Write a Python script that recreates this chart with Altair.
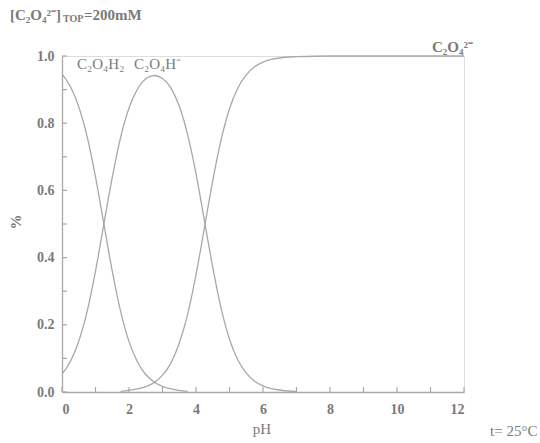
import altair as alt
import pandas as pd

# --- data ---
ph_h2a = [0, 0.25, 0.5, 0.75, 1.0, 1.25, 1.5, 1.75, 2.0, 2.25, 2.5, 2.75, 3.0, 3.25, 3.5, 3.75]
h2a = [0.947, 0.909, 0.849, 0.760, 0.640, 0.500, 0.360, 0.240, 0.150, 0.090, 0.052, 0.030, 0.017, 0.009, 0.005, 0.002]

ph_ha = [0, 0.25, 0.5, 0.75, 1.0, 1.25, 1.5, 1.75, 2.0, 2.25, 2.5, 2.75, 3.0, 3.25, 3.5, 3.75,
         4.0, 4.25, 4.5, 4.75, 5.0, 5.25, 5.5, 5.75, 6.0, 6.25, 6.5, 6.75, 7.0]
ha = [0.053, 0.091, 0.151, 0.240, 0.360, 0.500, 0.639, 0.758, 0.845, 0.901, 0.932, 0.942, 0.933, 0.905, 0.851, 0.766,
      0.650, 0.511, 0.371, 0.249, 0.157, 0.095, 0.056, 0.032, 0.018, 0.010, 0.006, 0.003, 0.002]

ph_a = [1.75, 2.0, 2.25, 2.5, 2.75, 3.0, 3.25, 3.5, 3.75, 4.0, 4.25, 4.5, 4.75, 5.0, 5.25, 5.5, 5.75,
        6.0, 6.25, 6.5, 6.75, 7.0, 8.0, 9.0, 10.0, 11.0, 12.0]
a = [0.002, 0.005, 0.009, 0.016, 0.028, 0.050, 0.086, 0.145, 0.231, 0.349, 0.488, 0.629, 0.751, 0.843, 0.905, 0.944, 0.968,
     0.982, 0.990, 0.994, 0.997, 0.998, 1.0, 1.0, 1.0, 1.0, 1.0]

x_ticks = list(range(0, 13))
x_labels = [0, 2, 4, 6, 8, 10, 12]
y_ticks = [round(i * 0.1, 1) for i in range(0, 11)]
y_labels = [0.0, 0.2, 0.4, 0.6, 0.8, 1.0]

rows = []
for p, v in zip(ph_h2a, h2a):
    rows.append({"pH": p, "frac": v, "sp": "C2O4H2"})
for p, v in zip(ph_ha, ha):
    rows.append({"pH": p, "frac": v, "sp": "C2O4H-"})
for p, v in zip(ph_a, a):
    rows.append({"pH": p, "frac": v, "sp": "C2O4 2-"})
df = pd.DataFrame(rows)

W, H = 402, 336
GRAY_LINE = "#a8a8a8"
GRAY_TXT = "#7a7a7a"
FONT = "Liberation Serif"

xs = alt.Scale(domain=[0, 12], nice=False)
ys = alt.Scale(domain=[0, 1], nice=False)

lines = alt.Chart(df).mark_line(color=GRAY_LINE, strokeWidth=1.3, interpolate="monotone").encode(
    x=alt.X("pH:Q", scale=xs,
            axis=alt.Axis(values=x_labels, format="d", title=None, ticks=False, grid=False,
                          domainColor=GRAY_LINE, domainWidth=1.3, labelFont=FONT, labelFontSize=14,
                          labelFontWeight="bold", labelColor=GRAY_TXT, labelPadding=10)),
    y=alt.Y("frac:Q", scale=ys,
            axis=alt.Axis(values=y_labels, format=".1f", title=None, ticks=False, grid=False,
                          domainColor=GRAY_LINE, domainWidth=1.3, labelFont=FONT, labelFontSize=14,
                          labelFontWeight="bold", labelColor=GRAY_TXT, labelPadding=8)),
    detail="sp:N",
)

xt = alt.Chart(pd.DataFrame({"t": x_ticks})).mark_rule(color=GRAY_LINE, strokeWidth=1.2).encode(
    x=alt.X("t:Q", scale=xs), y=alt.value(H), y2=alt.value(H - 5))
yt = alt.Chart(pd.DataFrame({"t": y_ticks})).mark_rule(color=GRAY_LINE, strokeWidth=1.2).encode(
    y=alt.Y("t:Q", scale=ys), x=alt.value(0), x2=alt.value(5))


def txt(s, x, y, size=14, weight="normal", align="left", angle=0, color=GRAY_TXT):
    kw = dict(text=s, font=FONT, fontSize=size, fontWeight=weight, color=color, align=align, baseline="middle")
    if angle:
        kw["angle"] = angle
    return alt.Chart(pd.DataFrame({"d": [0]})).mark_text(**kw).encode(x=alt.value(x), y=alt.value(y))


ox, oy = 62, 56
annots = [
    txt("[C₂O₄²⁻]", 10 - ox, 15 - oy, size=15, weight="bold"),
    txt("TOP", 63 - ox, 19 - oy, size=10, weight="bold"),
    txt("=200mM", 84 - ox, 15 - oy, size=15, weight="bold"),
    txt("C₂O₄H₂", 77 - ox, 64 - oy, size=15),
    txt("C₂O₄H⁻", 134 - ox, 64 - oy, size=15),
    txt("C₂O₄²⁻", 432 - ox, 47 - oy, size=15, weight="bold"),
    txt("pH", 262 - ox, 429 - oy, size=15, align="center"),
    txt("t= 25°C", 490 - ox, 431 - oy, size=15),
    txt("%", 16 - ox, 222 - oy, size=15, weight="bold", align="center", angle=270),
]

chart = alt.layer(lines, xt, yt, *annots).properties(
    width=W, height=H,
    autosize=alt.AutoSizeParams(type="none"),
    padding={"left": ox, "top": oy, "right": 540 - ox - W, "bottom": 443 - oy - H},
).configure_view(stroke=None).configure(background="white")

chart.save("out.html", embed_options={"renderer": "svg", "actions": False})
